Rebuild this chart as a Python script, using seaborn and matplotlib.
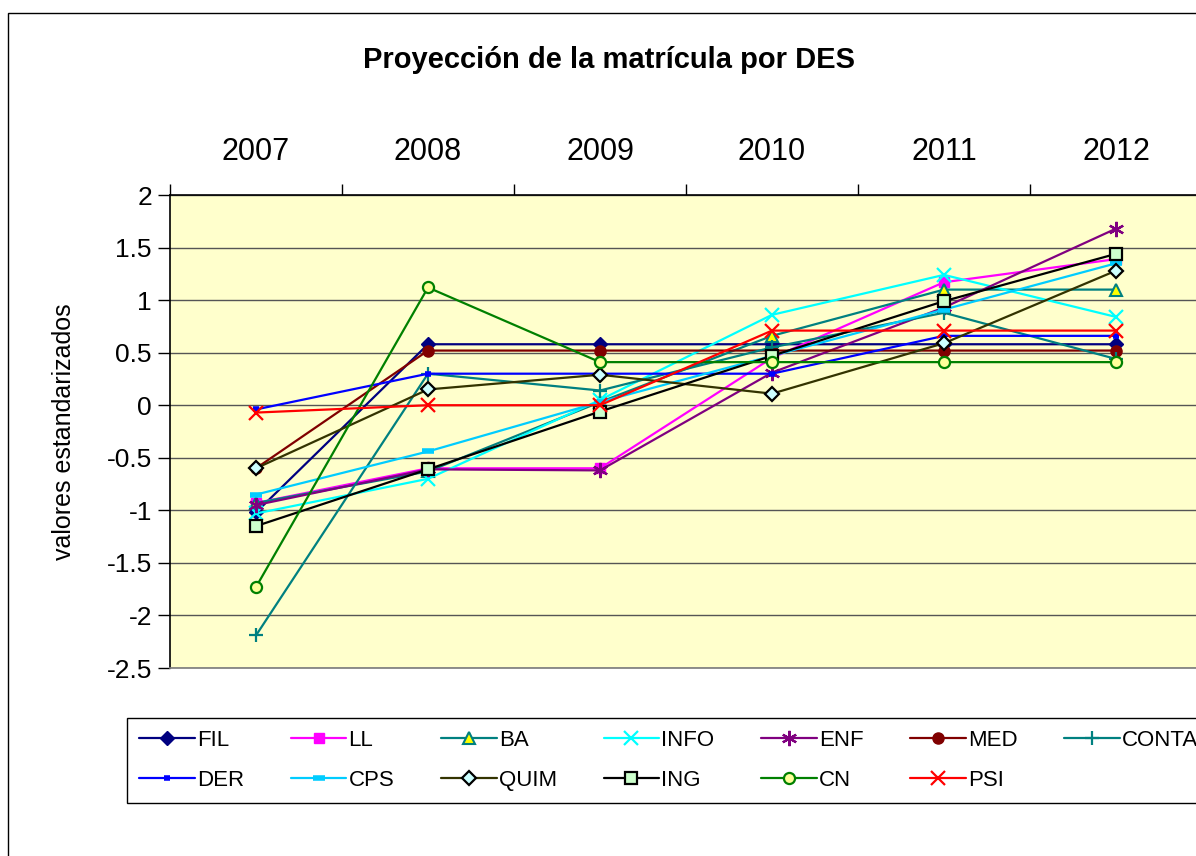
import numpy as np
import pandas as pd
import matplotlib
matplotlib.use("Agg")
import matplotlib.pyplot as plt
import seaborn as sns
from matplotlib.patches import Rectangle

# --- data ---
years = [2007, 2008, 2009, 2010, 2011, 2012]
fil = [-1.02, 0.58, 0.58, 0.58, 0.58, 0.58]
ll = [-0.93, -0.60, -0.60, 0.45, 1.17, 1.39]
ba = [-0.93, -0.63, 0.03, 0.66, 1.10, 1.10]
info = [-1.03, -0.70, 0.05, 0.86, 1.24, 0.84]
enf = [-0.95, -0.61, -0.62, 0.31, 0.93, 1.68]
med = [-0.60, 0.52, 0.52, 0.52, 0.52, 0.52]
conta = [-2.19, 0.30, 0.14, 0.55, 0.88, 0.44]
der = [-0.04, 0.30, 0.30, 0.30, 0.66, 0.66]
cps = [-0.85, -0.44, 0.03, 0.47, 0.91, 1.35]
quim = [-0.60, 0.15, 0.29, 0.11, 0.59, 1.28]
ing = [-1.15, -0.61, -0.06, 0.47, 0.99, 1.44]
cn = [-1.73, 1.12, 0.41, 0.41, 0.41, 0.41]
psi = [-0.07, 0.00, 0.00, 0.71, 0.71, 0.71]

series = {
    "FIL": fil, "LL": ll, "BA": ba, "INFO": info, "ENF": enf, "MED": med,
    "CONTA": conta, "DER": der, "CPS": cps, "QUIM": quim, "ING": ing,
    "CN": cn, "PSI": psi,
}

# line colour, marker, marker face, marker edge, marker size, edge width
styles = {
    "FIL": ("#000080", "D", "#000080", "#000080", 7, 1.0),
    "LL": ("#FF00FF", "s", "#FF00FF", "#FF00FF", 7, 1.0),
    "BA": ("#008080", "^", "#FFFF00", "#008080", 8, 1.5),
    "INFO": ("#00FFFF", "x", "#00FFFF", "#00FFFF", 10, 1.6),
    "ENF": ("#800080", (6, 2, 0), "#800080", "#800080", 11, 1.6),
    "MED": ("#800000", "o", "#800000", "#800000", 8, 1.0),
    "CONTA": ("#008080", "+", "#008080", "#008080", 10, 1.6),
    "DER": ("#0000FF", "_", "#0000FF", "#0000FF", 5, 4.0),
    "CPS": ("#00CCFF", "_", "#00CCFF", "#00CCFF", 8, 4.0),
    "QUIM": ("#333300", "D", "#CCFFFF", "#000000", 7, 1.6),
    "ING": ("#000000", "s", "#CCFFCC", "#000000", 8, 1.6),
    "CN": ("#008000", "o", "#FFFF99", "#008000", 8, 1.6),
    "PSI": ("#FF0000", "x", "#FF0000", "#FF0000", 10, 1.6),
}

df = pd.DataFrame(
    [(name, y, v) for name, vals in series.items() for y, v in zip(years, vals)],
    columns=["serie", "anio", "valor"],
)

sns.set_theme(style="white")
plt.rcParams["font.family"] = ["Liberation Sans", "DejaVu Sans"]
plt.rcParams.update({"text.color": "black", "axes.labelcolor": "black",
                     "xtick.color": "black", "ytick.color": "black"})

W, H = 1196, 856
fig = plt.figure(figsize=(W / 100, H / 100), dpi=100)
fig.patch.set_facecolor("white")

# plot area (extends past the right edge, as in the reference)
x0, x1, ytop, ybot = 170, 1202, 195, 668
ax = fig.add_axes([x0 / W, 1 - ybot / H, (x1 - x0) / W, (ybot - ytop) / H])
ax.set_facecolor("#FFFFCC")

for name in series:
    col, mk, mfc, mec, ms, mew = styles[name]
    sns.lineplot(
        data=df[df["serie"] == name], x="anio", y="valor", ax=ax,
        color=col, marker=mk, markerfacecolor=mfc, markeredgecolor=mec,
        markersize=ms, markeredgewidth=mew, linewidth=1.6, label=name,
        errorbar=None, clip_on=False,
    )

ax.set_xlim(years[0] - 0.5, years[-1] + 0.5)
ax.set_ylim(-2.5, 2)
yt = np.arange(-2.5, 2.01, 0.5)
ax.set_yticks(yt)
ax.set_yticklabels([f"{v:g}" for v in yt], fontsize=19)
ax.yaxis.grid(True, color="#555555", linewidth=1.0)
ax.xaxis.grid(False)
ax.set_axisbelow(True)
ax.tick_params(axis="y", direction="out", length=9, width=1, color="black",
               left=True, pad=4)

ax.xaxis.set_ticks_position("top")
ax.xaxis.set_label_position("top")
ax.set_xticks(years)
ax.set_xticklabels([str(y) for y in years], fontsize=22)
ax.set_xticks([y - 0.5 for y in years] + [years[-1] + 0.5], minor=True)
ax.tick_params(axis="x", which="major", length=0, pad=20, top=True, bottom=False)
ax.tick_params(axis="x", which="minor", direction="out", length=8, width=1,
               color="black", top=True, bottom=False)

ax.set_xlabel("")
ax.set_ylabel("valores estandarizados", fontsize=18, labelpad=22)

for side in ["left", "top"]:
    ax.spines[side].set_color("black")
    ax.spines[side].set_linewidth(1.2)
ax.spines["bottom"].set_color("#808080")
ax.spines["right"].set_visible(False)

# legend: row-major order of the reference, columns of 2
order = ["FIL", "DER", "LL", "CPS", "BA", "QUIM", "INFO", "ING", "ENF", "CN",
         "MED", "PSI", "CONTA"]
handles, labels = ax.get_legend_handles_labels()
hmap = dict(zip(labels, handles))
ax.legend(
    [hmap[k] for k in order], order, ncol=7,
    loc="upper left", bbox_to_anchor=(127 / W, 1 - 718 / H),
    bbox_transform=fig.transFigure, fontsize=16, frameon=True,
    fancybox=False, edgecolor="black", facecolor="white", framealpha=1,
    handlelength=2.5, handletextpad=0.1, columnspacing=2.1,
    labelspacing=0.85, borderpad=0.55, borderaxespad=0,
)
ax.get_legend().get_frame().set_linewidth(1.0)

fig.text(609 / W, 1 - 60 / H, "Proyección de la matrícula por DES",
         ha="center", va="center", fontsize=21, fontweight="bold")

# chart frame, running off the right and bottom edges
fig.patches.append(Rectangle((8 / W, -0.1), 2.0, 1 - 13 / H + 0.1,
                             transform=fig.transFigure, fill=False,
                             edgecolor="black", linewidth=1.0))

fig.savefig("out.png", dpi=100)
